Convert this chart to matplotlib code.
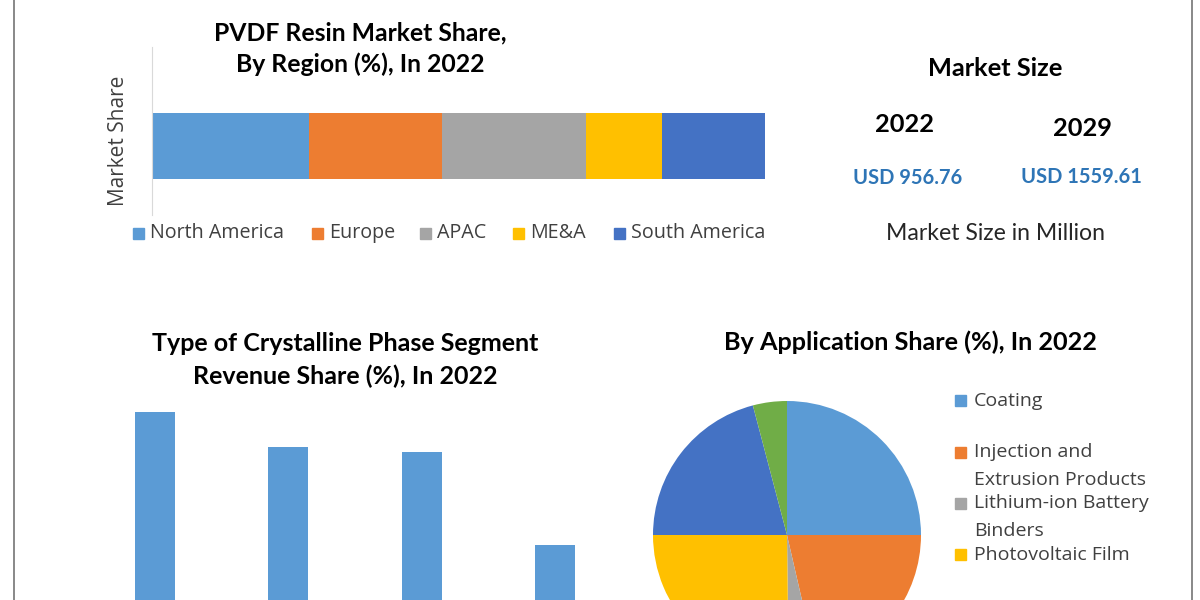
import matplotlib
matplotlib.use('Agg')
import matplotlib.pyplot as plt
from matplotlib.patches import Rectangle
from matplotlib.lines import Line2D

# --- data ---
regions = ['North America', 'Europe', 'APAC', 'ME&A', 'South America']
region_share = [25.6, 21.7, 23.5, 12.4, 16.8]

market_years = ['2022', '2029']
market_size = [956.76, 1559.61]

phases = ['α-Phase', 'β-Phase', 'γ-Phase', 'δ-Phase']
phase_share = [30.5, 26.8, 26.3, 16.4]

applications = ['Coating', 'Injection and\nExtrusion Products', 'Lithium-ion Battery\nBinders',
                'Photovoltaic Film', 'Membranes', 'Others']
app_share = [25.0, 21.4, 3.4, 25.2, 20.9, 4.1]

# --- style ---
C_LBLUE = '#5B9BD5'
C_ORANGE = '#ED7D31'
C_GRAY = '#A5A5A5'
C_YELLOW = '#FFC000'
C_DBLUE = '#4472C4'
C_GREEN = '#70AD47'
region_colors = [C_LBLUE, C_ORANGE, C_GRAY, C_YELLOW, C_DBLUE]
app_colors = [C_LBLUE, C_ORANGE, C_GRAY, C_YELLOW, C_DBLUE, C_GREEN]
TXT = '#404040'
BOLD_FONT = 'Lato'
REG_FONT = 'Open Sans'

W, H = 1200, 600
fig = plt.figure(figsize=(12, 6), dpi=100)
fig.patch.set_facecolor('white')


def fx(x):
    return x / W


def fy(y):
    return 1 - y / H


def ax_rect(x0, y0, x1, y1):
    # pixel box (top-left origin) -> figure fraction rect
    return [fx(x0), fy(y1), (x1 - x0) / W, (y1 - y0) / H]


# outer frame lines
for x in (14, 1192):
    fig.add_artist(Line2D([fx(x), fx(x)], [0, 1], color='#7f7f7f', lw=1.3))

# --- top left: stacked bar by region ---
ax1 = fig.add_axes(ax_rect(152, 47, 765, 215))
left = 0
for name, val, col in zip(regions, region_share, region_colors):
    ax1.barh(0, val, left=left, height=1, color=col, label=name)
    left += val
ax1.set_xlim(0, sum(region_share))
ax1.set_ylim(-1.045, 1.5)
for s in ('top', 'right', 'bottom'):
    ax1.spines[s].set_visible(False)
ax1.spines['left'].set_color('#d9d9d9')
ax1.set_xticks([])
ax1.set_yticks([])
fig.text(fx(119), fy(141), 'Market Share', rotation=90, ha='center', va='center',
         fontsize=15, color=TXT, family=REG_FONT)
fig.text(fx(360), fy(49), 'PVDF Resin Market Share,\nBy Region (%), In 2022', ha='center', va='center',
         fontsize=17.8, fontweight='bold', family=BOLD_FONT, linespacing=1.43)

leg_x = [133, 312, 420, 513, 614]
for name, col, x in zip(regions, region_colors, leg_x):
    fig.add_artist(Rectangle((fx(x), fy(239)), 11 / W, 11 / H, color=col))
    fig.text(fx(x + 17), fy(233), name, ha='left', va='center', fontsize=14.2, color=TXT,
             family=REG_FONT)

# --- top right: market size ---
fig.text(fx(995), fy(68), 'Market Size', ha='center', va='center', fontsize=18.3,
         fontweight='bold', family=BOLD_FONT)
for yr, val, x, y in zip(market_years, market_size, [904, 1082], [124, 128]):
    fig.text(fx(x), fy(y), yr, ha='center', va='center', fontsize=18.3, fontweight='bold',
             family=BOLD_FONT)
    fig.text(fx(x + 4 - (x > 1000) * 5), fy(y + 54 - (x > 1000) * 5), f'USD {val:.2f}',
             ha='center', va='center', fontsize=14.5,
             fontweight='bold', color='#2E75B6', family=BOLD_FONT)
fig.text(fx(996), fy(233), 'Market Size in Million', ha='center', va='center', fontsize=16.6,
         color='#262626', family=BOLD_FONT)

# --- bottom left: crystalline phase bars ---
ax3 = fig.add_axes(ax_rect(88, 400, 622, 700))
ax3.bar(range(len(phases)), phase_share, width=0.3, color=C_LBLUE)
ax3.set_xlim(-0.5, len(phases) - 0.5)
ax3.set_ylim(0, 31.8)
ax3.set_xticks([])
ax3.set_yticks([])
for s in ax3.spines.values():
    s.set_visible(False)
fig.text(fx(345), fy(360), 'Type of Crystalline Phase Segment\nRevenue Share (%), In 2022',
         ha='center', va='center', fontsize=18, fontweight='bold', family=BOLD_FONT,
         linespacing=1.46)

# --- bottom right: application pie ---
ax4 = fig.add_axes(ax_rect(653, 401, 921, 669))
ax4.pie(app_share, colors=app_colors, startangle=90, counterclock=False, radius=1,
        wedgeprops=dict(linewidth=0))
ax4.set_xlim(-1, 1)
ax4.set_ylim(-1, 1)
ax4.set_aspect('equal')
fig.text(fx(910), fy(342), 'By Application Share (%), In 2022', ha='center', va='center',
         fontsize=18.2, fontweight='bold', family=BOLD_FONT)

# only the first four legend entries are visible in the cropped original
pie_leg_y = [401, 466, 517, 555]
for name, col, y in zip(applications, app_colors, pie_leg_y):
    first_line_y = y - 13.5 * name.count('\n')
    fig.add_artist(Rectangle((fx(955), fy(first_line_y + 5)), 11 / W, 11 / H, color=col))
    fig.text(fx(974), fy(y), name, ha='left', va='center', fontsize=14, color=TXT,
             family=REG_FONT, linespacing=1.72)

fig.savefig('out.png', dpi=100, facecolor='white')
